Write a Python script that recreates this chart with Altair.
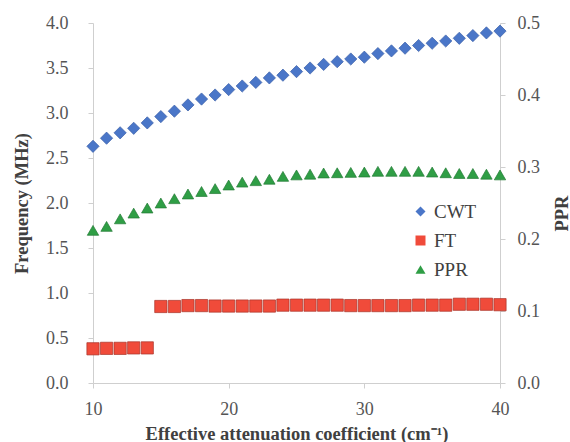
import altair as alt
import pandas as pd

x_vals = list(range(10, 41))
cwt = [2.63, 2.72, 2.78, 2.83, 2.89, 2.96, 3.02, 3.09, 3.155, 3.20, 3.26,
       3.30, 3.34, 3.39, 3.42, 3.46, 3.50, 3.54, 3.57, 3.60, 3.62,
       3.66, 3.69, 3.72, 3.75, 3.775, 3.80, 3.83, 3.86, 3.89, 3.91]
ft = [0.38, 0.385, 0.385, 0.39, 0.39, 0.85, 0.85, 0.86, 0.86, 0.855, 0.855,
      0.855, 0.855, 0.855, 0.865, 0.865, 0.865, 0.865, 0.865, 0.86, 0.86,
      0.86, 0.86, 0.86, 0.865, 0.865, 0.865, 0.875, 0.875, 0.875, 0.87]
ppr = [0.212, 0.2175, 0.228, 0.236, 0.243, 0.250, 0.256, 0.2625, 0.266, 0.270, 0.275,
       0.279, 0.281, 0.283, 0.287, 0.289, 0.290, 0.2917, 0.292, 0.2925, 0.293,
       0.294, 0.294, 0.294, 0.294, 0.293, 0.292, 0.291, 0.291, 0.290, 0.289]

series_names = ["CWT", "FT", "PPR"]
fills = ["#4a76c8", "#f04b3a", "#2f9e45"]
strokes = ["#3a5fa8", "#a8342a", "#237a35"]
shapes = ["diamond", "square", "triangle-up"]

freq_df = pd.DataFrame({
    "x": x_vals * 2,
    "value": cwt + ft,
    "series": ["CWT"] * len(x_vals) + ["FT"] * len(x_vals),
})
ppr_df = pd.DataFrame({"x": x_vals, "value": ppr, "series": ["PPR"] * len(x_vals)})

serif = "Liberation Serif"
label_color = "#555555"
title_color = "#404040"
axis_line = "#cfcfcf"

common_axis = dict(labelFont=serif, labelFontSize=18, labelColor=label_color,
                   titleFont=serif, titleFontSize=18.5, titleFontWeight="bold",
                   titleColor=title_color, domainColor=axis_line, tickColor=axis_line,
                   tickSize=5, grid=False, labelFlush=False, labelOverlap=False)

x_enc = alt.X("x:Q", scale=alt.Scale(domain=[10, 40], nice=False),
              axis=alt.Axis(values=[10, 20, 30, 40],
                            title="Effective attenuation coefficient (cm⁻¹)",
                            labelPadding=12, titlePadding=6, **common_axis))

color_enc = alt.Color("series:N", scale=alt.Scale(domain=series_names, range=fills),
                      legend=alt.Legend(title=None, orient="none", legendX=318, legendY=179,
                                        symbolSize=100, rowPadding=9, labelOffset=4,
                                        labelFontSize=19, labelFont=serif, labelColor=title_color,
                                        symbolStrokeWidth=0))
shape_enc = alt.Shape("series:N", scale=alt.Scale(domain=series_names, range=shapes))
stroke_enc = alt.Stroke("series:N", scale=alt.Scale(domain=series_names, range=strokes), legend=None)

freq_layer = alt.Chart(freq_df).mark_point(filled=True, opacity=1, size=150, strokeWidth=0.7).encode(
    x=x_enc,
    y=alt.Y("value:Q", scale=alt.Scale(domain=[0, 4], nice=False),
            axis=alt.Axis(values=[0, 0.5, 1, 1.5, 2, 2.5, 3, 3.5, 4], format=".1f",
                          title="Frequency (MHz)", labelPadding=20,
                          titleX=-72, titleY=180, titleAngle=-90,
                          titleAlign="center", titleBaseline="middle", **common_axis)),
    color=color_enc,
    shape=shape_enc,
    stroke=stroke_enc,
)

ppr_layer = alt.Chart(ppr_df).mark_point(filled=True, opacity=1, size=130, strokeWidth=0.7).encode(
    x=x_enc,
    y=alt.Y("value:Q", scale=alt.Scale(domain=[0, 0.5], nice=False),
            axis=alt.Axis(values=[0, 0.1, 0.2, 0.3, 0.4, 0.5], format=".1f",
                          orient="right", title="PPR", labelPadding=12,
                          titleX=61, titleY=190, titleAngle=-90,
                          titleAlign="center", titleBaseline="middle", **common_axis)),
    color=color_enc,
    shape=shape_enc,
    stroke=stroke_enc,
)

chart = alt.layer(freq_layer, ppr_layer).resolve_scale(y="independent").properties(
    width=407, height=360,
    autosize=alt.AutoSizeParams(type="none"),
    padding={"left": 93, "top": 23, "right": 70, "bottom": 59},
    background="white",
).configure_view(stroke=None)

chart.save("out.html", embed_options={"renderer": "svg", "actions": False})
